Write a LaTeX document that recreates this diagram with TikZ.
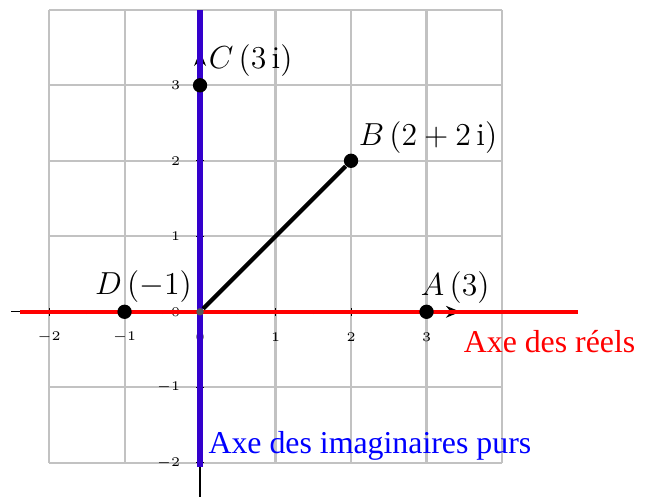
\documentclass[tikz,border=0pt]{standalone}
\usepackage{amsmath,amssymb}
\usepackage{fontspec}
\usepackage{tikz}
\usetikzlibrary{positioning,arrows.meta,calc}
\newfontfamily\axefont{Liberation Serif}
\definecolor{axeim}{RGB}{51,0,204}
\tikzset{
  pt/.style={circle, fill=black, inner sep=0pt, minimum size=0.19cm},
  ticklab/.style={font=\tiny, inner sep=1pt},
  lab/.style={font=\large},
}

\begin{document}
\begin{tikzpicture}
  \useasboundingbox (-2.65,-2.45) rectangle (5.96,4.13);

  % Quadrillage
  \draw[black!24, line width=0.8pt] (-2,-2) grid (4,4);

  % Axes
  \coordinate (xmin) at (-2.5,0);
  \coordinate (xmax) at (3.45,0);
  \coordinate (ymin) at (0,-2.5);
  \coordinate (ymax) at (0,3.45);
  \draw[line width=0.5pt, -{Stealth[length=5.5pt,width=4.5pt]}] (xmin) -- (xmax);
  \draw[line width=0.5pt, -{Stealth[length=5.5pt,width=4.5pt]}] (ymin) -- (ymax);

  % Graduations
  \foreach \k in {-2,...,3} {
    \draw[line width=0.4pt] (\k,-0.05) -- (\k,0.05);
    \draw[line width=0.4pt] (-0.05,\k) -- (0.05,\k);
    \node[ticklab] (gx\k) at (\k,-0.34) {$\k$};
  }
  \foreach \k in {-2,...,3} {
    \node[ticklab, anchor=east] (gy\k) at (-0.22,\k) {$\k$};
  }
  \foreach \k in {-1.5,-0.5,0.5,1.5,2.5} {
    \draw[line width=0.3pt] (\k,-0.03) -- (\k,0.03);
    \draw[line width=0.3pt] (-0.03,\k) -- (0.03,\k);
  }

  % Axe reel et axe imaginaire
  \coordinate (rg) at (-2.38,0);
  \coordinate (rd) at (5,0);
  \coordinate (ib) at (0,-2.05);
  \coordinate (ih) at (0,4);
  \draw[red, line width=1.5pt] (rg) -- (rd);
  \draw[axeim, line width=2pt] (ib) -- (ih);

  % Points
  \node[circle, fill=black!65, inner sep=0pt, minimum size=0.1cm] (O) at (0,0) {};
  \node[pt] (A) at (3,0) {};
  \node[pt] (B) at (2,2) {};
  \node[pt] (C) at (0,3) {};
  \node[pt] (D) at (-1,0) {};
  \draw[line width=1.6pt] (O) -- (B);

  % Etiquettes
  \node[lab] (labA) at (3.38,0.32) {$A\,(3)$};
  \node[lab] (labB) at (3.02,2.31) {$B\,(2+2\,\mathrm{i})$};
  \node[lab] (labC) at (0.67,3.33) {$C\,(3\,\mathrm{i})$};
  \node[lab] (labD) at (-0.75,0.34) {$D\,(-1)$};
  \node[red, font=\axefont\fontsize{12}{14}\selectfont] (nomR) at (4.63,-0.40) {Axe des réels};
  \node[blue, font=\axefont\fontsize{12}{14}\selectfont] (nomI) at (2.25,-1.78) {Axe des imaginaires purs};
\end{tikzpicture}
\end{document}
